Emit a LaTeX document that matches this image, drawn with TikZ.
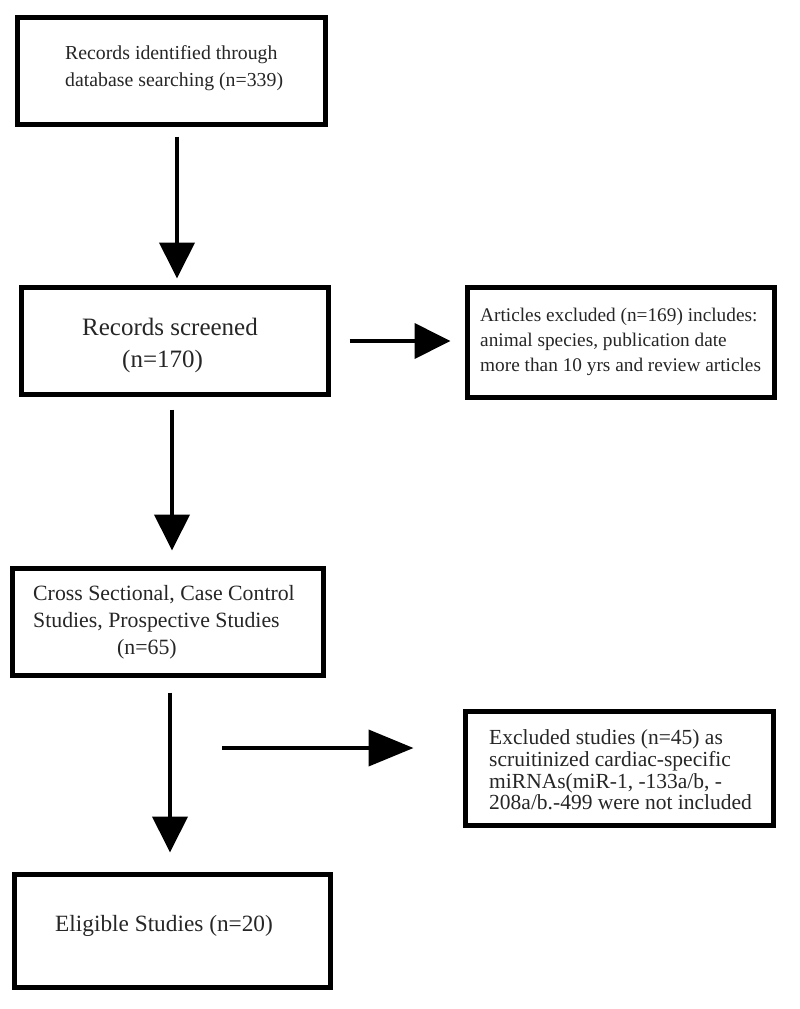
\documentclass[tikz,border=0pt]{standalone}
\usepackage{fontspec}
\setmainfont{Liberation Serif}
\usetikzlibrary{arrows.meta}
\begin{document}
\begin{tikzpicture}[x=1pt,y=-1pt,
  box/.style={draw=black, line width=5pt, rectangle, inner sep=0pt, outer sep=0pt},
  lbl/.style={anchor=west, inner sep=0pt, align=left, text=black!85},
  arr/.style={line width=4pt, -{Triangle[length=36pt,width=35pt]}},
  arrlong/.style={line width=4pt, -{Triangle[length=45pt,width=36pt]}},
]
\useasboundingbox (0,0) rectangle (800,1009);
\fill[white] (0,0) rectangle (800,1009);
% boxes
\node[box, minimum width=308pt, minimum height=107pt] (b1) at (171.5,71) {};
\node[box, minimum width=307pt, minimum height=107pt] (b2) at (175,341) {};
\node[box, minimum width=307pt, minimum height=110pt] (b3) at (621,342.5) {};
\node[box, minimum width=311pt, minimum height=107pt] (b4) at (168,622) {};
\node[box, minimum width=316pt, minimum height=113pt] (b5) at (172.5,931) {};
\node[box, minimum width=308pt, minimum height=114pt] (b6) at (619.5,768.5) {};
% texts
\node[lbl, font=\fontsize{19.8}{27}\selectfont] (t1) at (65,68.5)
  {Records identified through\\database searching (n=339)};
\node[lbl, font=\fontsize{25}{32}\selectfont] (t2) at (82,345)
  {Records screened\\\hspace*{40pt}(n=170)};
\node[lbl, font=\fontsize{19.3}{25}\selectfont] (t3) at (480,341.5)
  {Articles excluded (n=169) includes:\\animal species, publication date\\more than 10 yrs and review articles};
\node[lbl, font=\fontsize{21.8}{27}\selectfont] (t4) at (33,622)
  {Cross Sectional, Case Control\\Studies, Prospective Studies\\\hspace*{84pt}(n=65)};
\node[lbl, font=\fontsize{23.3}{28}\selectfont] (t5) at (55,926)
  {Eligible Studies (n=20)};
\node[lbl, font=\fontsize{21.5}{21.7}\selectfont] (t6) at (489,770)
  {Excluded studies (n=45) as\\scruitinized cardiac-specific\\miRNAs(miR-1, -133a/b, -\\208a/b.-499 were not included};
% connectors
\draw[arr, shorten <=12pt, shorten >=9pt] ([xshift=5.5pt]b1.south) -- ([xshift=2pt]b2.north);
\draw[arr, shorten <=15pt, shorten >=18pt] ([xshift=-3pt]b2.south) -- ([xshift=4pt]b4.north);
\draw[arr, shorten <=21pt, shorten >=17pt] (b2.east) -- (b2.east -| b3.west);
\draw[arr, shorten <=17pt, shorten >=22pt] ([xshift=2pt]b4.south) -- ([xshift=-2.5pt]b5.north);
\coordinate (s5) at (222,748);
\draw[arrlong, shorten >=52pt] (s5) -- (s5 -| b6.west);
\end{tikzpicture}
\end{document}
